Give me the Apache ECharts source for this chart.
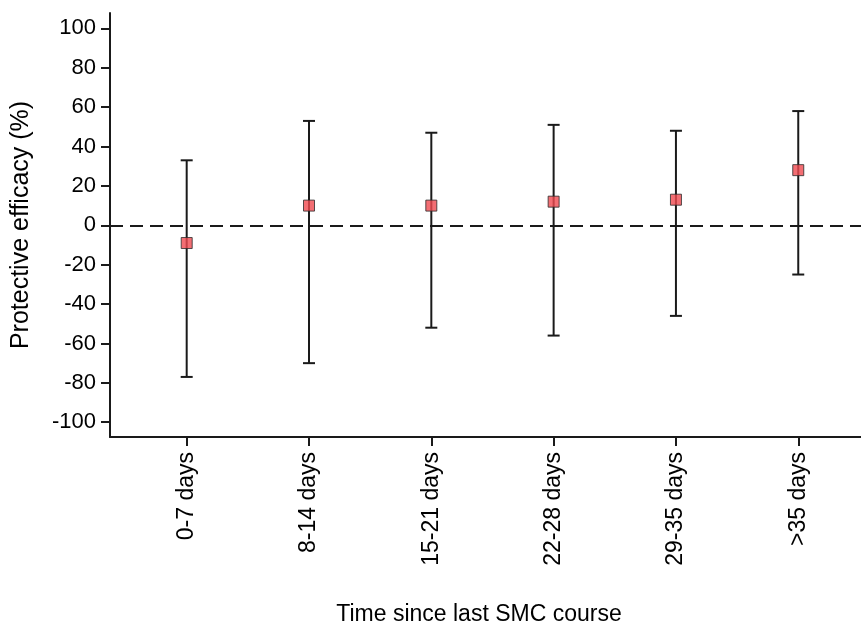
<!DOCTYPE html>
<html><head><meta charset="utf-8">
<script src="https://cdn.jsdelivr.net/npm/echarts@6/dist/echarts.min.js"></script>
<style>html,body{margin:0;padding:0;background:#fff}#c{width:861px;height:630px}</style>
</head><body><div id="c"></div>
<script>
const categories = ['0-7 days','8-14 days','15-21 days','22-28 days','29-35 days','>35 days'];
const estimate = [-9, 10, 10, 12, 13, 28];
const lower = [-77, -70, -52, -56, -46, -25];
const upper = [33, 53, 47, 51, 48, 58];
const yTicks = [-100,-80,-60,-40,-20,0,20,40,60,80,100];

const positions = categories.map((c,i)=>i+1);
const font = 'Liberation Sans, Arial, sans-serif';
const chart = echarts.init(document.getElementById('c'));
chart.setOption({
  animation:false,
  grid:{left:110,top:13,right:0,bottom:193},
  xAxis:{type:'value',min:0.373,max:6.513,
    axisLine:{onZero:false,lineStyle:{color:'#1a1a1a',width:2}},
    axisTick:{customValues:positions,length:9,lineStyle:{color:'#1a1a1a',width:2}},
    axisLabel:{customValues:positions,rotate:90,fontSize:23,color:'#000',fontFamily:font,margin:15,
      formatter:v=>categories[Math.round(v)-1]},
    splitLine:{show:false}},
  yAxis:{type:'value',min:-107.5,max:107.8,
    axisLine:{show:true,onZero:false,lineStyle:{color:'#1a1a1a',width:2}},
    axisTick:{show:true,customValues:yTicks,length:9,lineStyle:{color:'#1a1a1a',width:2}},
    axisLabel:{customValues:yTicks,fontSize:22,color:'#000',fontFamily:font,margin:14},
    splitLine:{show:false}},
  graphic:[
    {type:'text',x:479,y:603,style:{text:'Time since last SMC course',font:'23px '+font,fill:'#000',align:'center',verticalAlign:'top'}},
    {type:'text',x:9,y:225,rotation:Math.PI/2,style:{text:'Protective efficacy (%)',font:'25px '+font,fill:'#000',align:'center',verticalAlign:'top'}}
  ],
  series:[
    {type:'custom',
      data:positions.map((p,i)=>[p,lower[i],upper[i]]),
      renderItem:(params,api)=>{
        const x=api.value(0);
        const lo=api.coord([x,api.value(1)]);
        const hi=api.coord([x,api.value(2)]);
        const st={stroke:'#1a1a1a',lineWidth:2};
        return {type:'group',children:[
          {type:'line',shape:{x1:lo[0],y1:lo[1],x2:hi[0],y2:hi[1]},style:st},
          {type:'line',shape:{x1:lo[0]-6,y1:lo[1],x2:lo[0]+6,y2:lo[1]},style:st},
          {type:'line',shape:{x1:hi[0]-6,y1:hi[1],x2:hi[0]+6,y2:hi[1]},style:st}
        ]};
      },z:2},
    {type:'scatter',symbol:'rect',symbolSize:11,
      data:positions.map((p,i)=>[p,estimate[i]]),
      itemStyle:{color:'#f04a50',borderColor:'#2a2a2a',borderWidth:1},z:3,
      markLine:{silent:true,symbol:'none',label:{show:false},
        lineStyle:{color:'#1a1a1a',type:[13,7],width:2},
        data:[{yAxis:0}]}}
  ]
});
</script></body></html>
